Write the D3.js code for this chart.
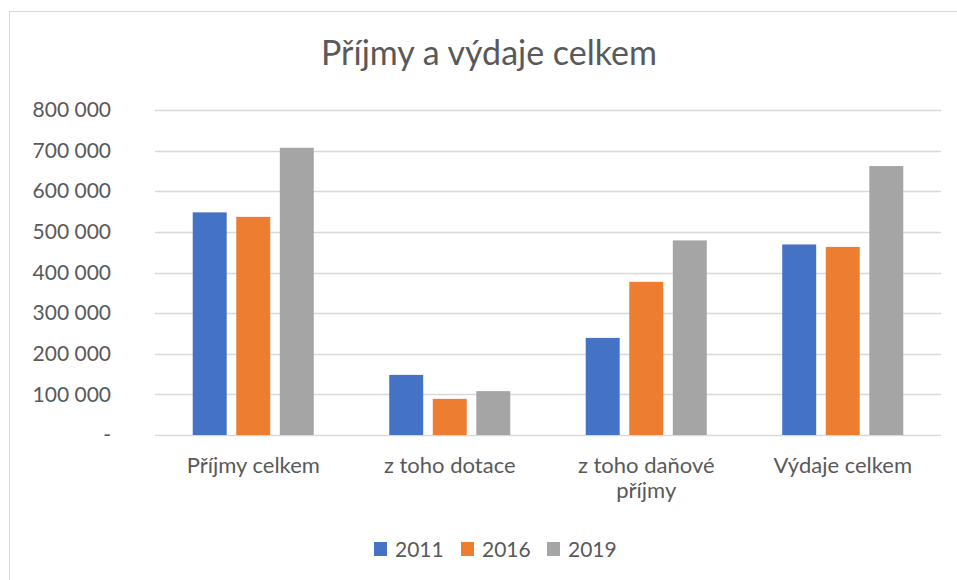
<!DOCTYPE html>
<meta charset="utf-8">
<style>
  body { margin: 0; background: #fff; }
  text { font-family: Lato, "Open Sans", sans-serif; fill: #595959; }
</style>
<svg width="957" height="580"></svg>
<script src="https://d3js.org/d3.v7.min.js"></script>
<script>

var categories = ["Příjmy celkem", "z toho dotace", "z toho daňové příjmy", "Výdaje celkem"],
    years = ["2011", "2016", "2019"],
    values2011 = [548000, 148000, 239000, 469000],
    values2016 = [537000, 89000, 377000, 463000],
    values2019 = [707000, 108000, 479000, 662000],
    yTicks = [0, 100000, 200000, 300000, 400000, 500000, 600000, 700000, 800000],
    colors = ["#4472C4", "#ED7D31", "#A5A5A5"];

var series = [values2011, values2016, values2019];

var svg = d3.select("svg"),
    width = +svg.attr("width"),
    height = +svg.attr("height");

// chart frame (runs off the page on the right and bottom)
svg.append("rect")
    .attr("x", 9.5).attr("y", 11.5)
    .attr("width", 1000).attr("height", 1000)
    .attr("fill", "none")
    .attr("stroke", "#d9d9d9");

svg.append("text")
    .attr("x", 489).attr("y", 65)
    .attr("text-anchor", "middle")
    .style("font-size", "34px")
    .text("Příjmy a výdaje celkem");

var x0 = d3.scaleBand()
    .domain(categories)
    .range([155, 941])
    .paddingInner(0.384)
    .paddingOuter(0.192);

var x1 = d3.scaleBand()
    .domain(years)
    .range([0, x0.bandwidth()])
    .paddingInner(0.22);

var y = d3.scaleLinear()
    .domain([0, 800000])
    .range([435, 110]);

var locale = d3.formatLocale({decimal: ",", thousands: " ", grouping: [3], currency: ["", ""]}),
    fmt = locale.format(",");

// gridlines
svg.append("g")
    .selectAll("line")
    .data(yTicks)
    .join("line")
    .attr("x1", 155).attr("x2", 941)
    .attr("y1", function(d) { return Math.round(y(d)) + 0.5; })
    .attr("y2", function(d) { return Math.round(y(d)) + 0.5; })
    .attr("stroke", "#d9d9d9")
    .attr("stroke-width", function(d) { return d === 0 ? 1.5 : 1.3; });

// y axis labels
var yAxis = d3.axisLeft(y)
    .tickValues(yTicks)
    .tickSize(0)
    .tickPadding(0)
    .tickFormat(function(d) { return d === 0 ? "-" : fmt(d); });

svg.append("g")
    .attr("transform", "translate(111,0)")
    .call(yAxis)
    .call(function(g) { g.select(".domain").remove(); })
    .selectAll("text")
    .attr("fill", "#595959")
    .style("font-family", "Lato, sans-serif")
    .style("font-size", "21px");

// bars
svg.append("g")
    .selectAll("g")
    .data(series)
    .join("g")
    .attr("fill", function(d, i) { return colors[i]; })
    .selectAll("rect")
    .data(function(d, i) {
      return d.map(function(v, j) { return {year: years[i], cat: categories[j], value: v}; });
    })
    .join("rect")
    .attr("x", function(d) { return x0(d.cat) + x1(d.year); })
    .attr("width", x1.bandwidth())
    .attr("y", function(d) { return y(d.value); })
    .attr("height", function(d) { return y(0) - y(d.value); });

// category labels (wrap the long one like Excel)
var wrapped = {"z toho daňové příjmy": ["z toho daňové", "příjmy"]};
svg.append("g")
    .selectAll("text")
    .data(categories)
    .join("text")
    .attr("text-anchor", "middle")
    .style("font-size", "22px")
    .attr("transform", function(d) { return "translate(" + (x0(d) + x0.bandwidth() / 2) + ",473)"; })
    .each(function(d) {
      var lines = wrapped[d] || [d];
      d3.select(this).selectAll("tspan")
          .data(lines)
          .join("tspan")
          .attr("x", 0)
          .attr("dy", function(l, i) { return i === 0 ? 0 : 25; })
          .text(function(l) { return l; });
    });

// legend
var legendX = [374, 461, 547];
var legend = svg.append("g")
    .selectAll("g")
    .data(years)
    .join("g")
    .attr("transform", function(d, i) { return "translate(" + legendX[i] + ",542)"; });

legend.append("rect")
    .attr("width", 13).attr("height", 14)
    .attr("fill", function(d, i) { return colors[i]; });

legend.append("text")
    .attr("x", 21).attr("y", 15)
    .style("font-size", "21px")
    .text(function(d) { return d; });

</script>
